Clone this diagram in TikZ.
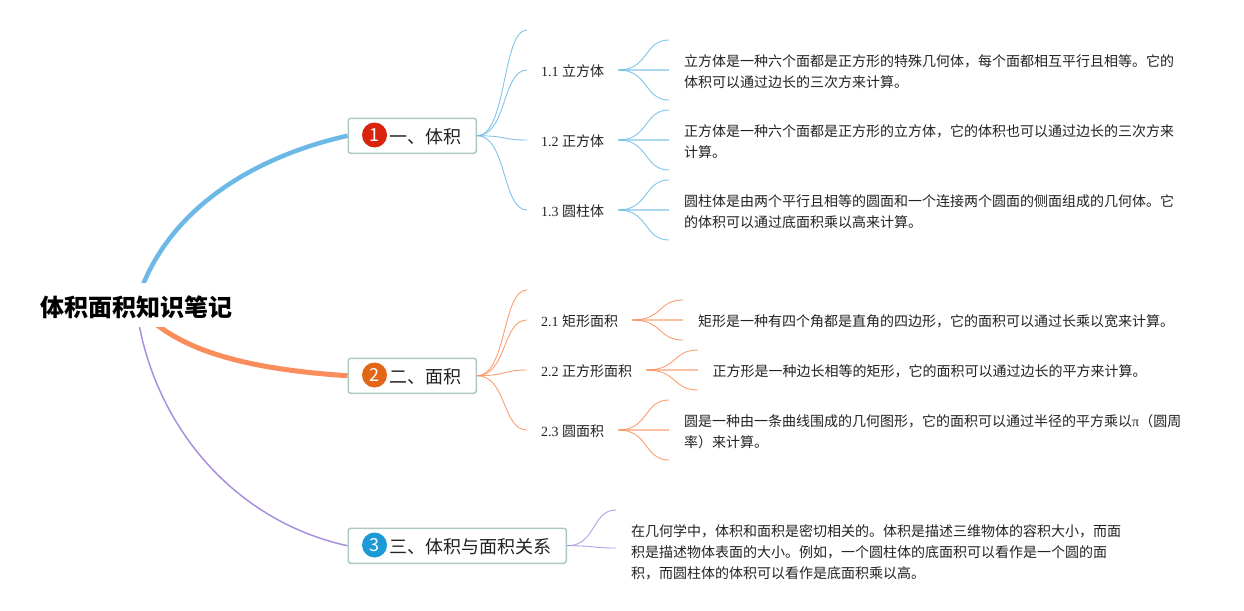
\documentclass[tikz,border=0pt]{standalone}
\usepackage{fontspec}
\setmainfont{Noto Sans CJK SC}
\newfontfamily\ser{Liberation Serif}
\usetikzlibrary{calc}
\definecolor{cblue}{HTML}{6CB8E6}
\definecolor{corange}{HTML}{F98D5C}
\definecolor{cpurple}{HTML}{A98FDE}
\definecolor{cbox}{HTML}{A9C9C1}
\definecolor{ctxt}{HTML}{222222}
\newcommand\conn[3]{\draw[#1,line width=.9pt,opacity=.85] (#2) .. controls ($(#2)!0.6!(#3 |- #2)$) and ($(#3)!0.5!(#2 |- #3)$) .. (#3);}
\tikzset{
  rootnode/.style={fill=white,inner xsep=0pt,inner ysep=7pt,text height=26pt,text depth=4pt,minimum width=192pt,font=\fontsize{24}{28}\selectfont\bfseries,text=black},
  topic/.style={draw=cbox,line width=1.5pt,rounded corners=2.5pt,fill=white,anchor=north west,minimum height=35pt,inner xsep=14.5pt,inner ysep=0pt,text height=15pt,text depth=0pt,font=\fontsize{18}{22}\selectfont,text=ctxt},
  badge/.style={circle,inner sep=0pt,minimum size=25pt,text=white,font=\fontsize{18}{20}\selectfont},
  sub/.style={anchor=west,inner xsep=14pt,inner ysep=0pt,text height=12pt,text depth=0pt,font=\fontsize{14}{21}\selectfont,text=ctxt},
  leaf/.style={anchor=west,inner xsep=15pt,inner ysep=0pt,align=left,font=\fontsize{14}{21}\selectfont,text=ctxt}
}
\begin{document}
\begin{tikzpicture}[x=1pt,y=-1pt]
\useasboundingbox (0,0) rectangle (1244,610);
% topics
\node[topic] (t1) at (347.5,117.5) {\hspace*{27pt}一、体积};
\node[topic] (t2) at (347.5,357.5) {\hspace*{27pt}二、面积};
\node[topic] (t3) at (347.5,527.5) {\hspace*{27pt}三、体积与面积关系};
\node[badge,fill={rgb,255:red,217;green,35;blue,12}] (b1) at (374.5,135) {1};
\node[badge,fill={rgb,255:red,226;green,101;blue,24}] (b2) at (374.5,375) {2};
\node[badge,fill={rgb,255:red,28;green,154;blue,216}] (b3) at (374.5,545) {3};
% root
\coordinate (rc) at (136,305);
\draw[cblue,line width=4.5pt] (rc) .. controls (160,220) and (240,160) .. (t1.west);
\draw[corange,line width=5pt] (rc) .. controls (170,345) and (230,368) .. (t2.west);
\draw[cpurple,line width=1.5pt] (rc) .. controls (150,420) and (230,520) .. (t3.west);
\node[rootnode] (root) at (rc) {体积面积知识笔记};
% level 2 nodes
\node[sub] (n11) at (527,70) {{\ser 1.1 }立方体};
\node[sub] (n12) at (527,140) {{\ser 1.2 }正方体};
\node[sub] (n13) at (527,210) {{\ser 1.3 }圆柱体};
\node[sub] (n21) at (527,320) {{\ser 2.1 }矩形面积};
\node[sub] (n22) at (527,370) {{\ser 2.2 }正方形面积};
\node[sub] (n23) at (527,430) {{\ser 2.3 }圆面积};
\coordinate (s1) at (527,30);
\coordinate (s2) at (527,290);
\coordinate (s3) at (616,510);
\coordinate (e3) at (616,548);
% leaves
\node[leaf] (l11) at (669,71.5) {立方体是一种六个面都是正方形的特殊几何体，每个面都相互平行且相等。它的\\体积可以通过边长的三次方来计算。};
\node[leaf] (l12) at (669,141.5) {正方体是一种六个面都是正方形的立方体，它的体积也可以通过边长的三次方来\\计算。};
\node[leaf] (l13) at (669,211.5) {圆柱体是由两个平行且相等的圆面和一个连接两个圆面的侧面组成的几何体。它\\的体积可以通过底面积乘以高来计算。};
\node[leaf] (l21) at (683,321) {矩形是一种有四个角都是直角的四边形，它的面积可以通过长乘以宽来计算。};
\node[leaf] (l22) at (697.5,371) {正方形是一种边长相等的矩形，它的面积可以通过边长的平方来计算。};
\node[leaf] (l23) at (669,431.5) {圆是一种由一条曲线围成的几何图形，它的面积可以通过半径的平方乘以{\ser π}（圆周\\率）来计算。};
\node[leaf] (l3) at (616,552) {在几何学中，体积和面积是密切相关的。体积是描述三维物体的容积大小，而面\\积是描述物体表面的大小。例如，一个圆柱体的底面积可以看作是一个圆的面\\积，而圆柱体的体积可以看作是底面积乘以高。};
% fan ends
\foreach \n/\top/\bot in {11/40/100,12/110/170,13/180/240,23/400/460}{
  \coordinate (u\n) at (669,\top); \coordinate (d\n) at (669,\bot);}
\coordinate (u21) at (683,300); \coordinate (d21) at (683,340);
\coordinate (u22) at (698,350); \coordinate (d22) at (698,390);
% connectors level 1
\conn{cblue}{t1.east}{s1}
\conn{cblue}{t1.east}{n11.west}
\conn{cblue}{t1.east}{n12.west}
\conn{cblue}{t1.east}{n13.west}
\conn{corange}{t2.east}{s2}
\conn{corange}{t2.east}{n21.west}
\conn{corange}{t2.east}{n22.west}
\conn{corange}{t2.east}{n23.west}
\conn{cpurple}{t3.east}{s3}
\conn{cpurple}{t3.east}{e3}
% connectors level 2
\foreach \c/\n in {cblue/11,cblue/12,cblue/13,corange/21,corange/22,corange/23}{
  \conn{\c}{n\n.east}{u\n}
  \conn{\c}{n\n.east}{d\n}
  \draw[\c,line width=1.4pt,opacity=.55] (n\n.east) -- (l\n.west |- n\n.east);
}
\end{tikzpicture}
\end{document}
